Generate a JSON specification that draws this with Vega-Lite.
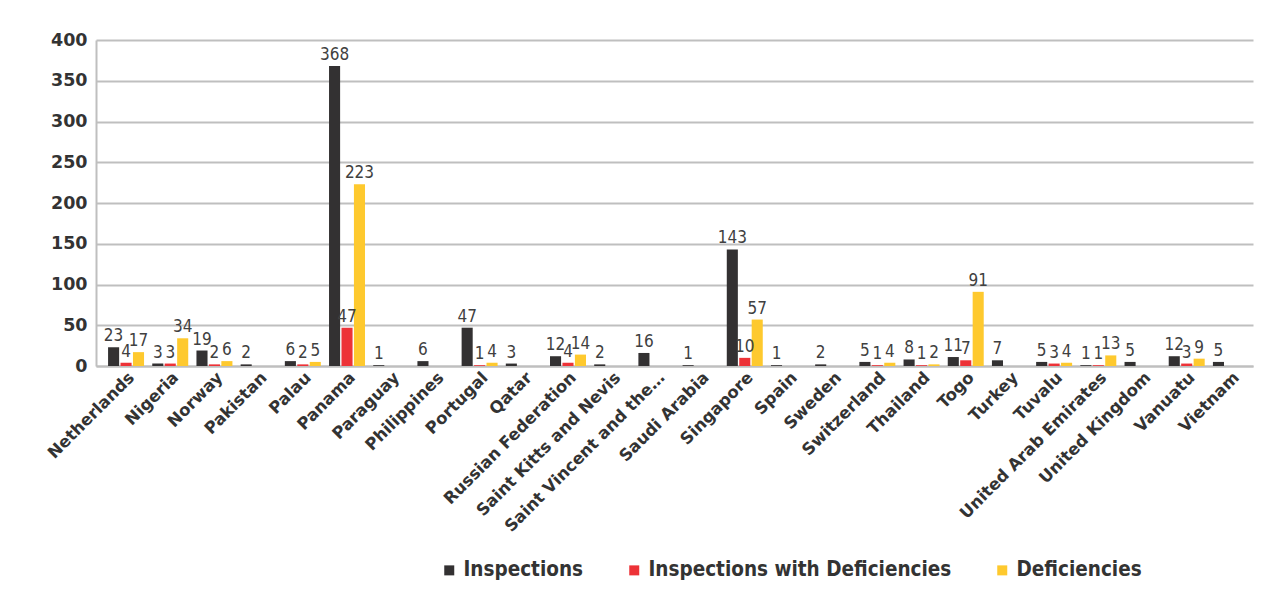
{
  "$schema": "https://vega.github.io/schema/vega-lite/v6.json",
  "width": 1157,
  "height": 326,
  "autosize": {"type": "none"},
  "padding": {"left": 96, "top": 40, "right": 34, "bottom": 229},
  "background": "white",
  "config": {"view": {"stroke": null}},
  "data": {"values": [
    {"country": "Netherlands", "series": "Inspections", "value": 23},
    {"country": "Netherlands", "series": "Inspections with Deficiencies", "value": 4},
    {"country": "Netherlands", "series": "Deficiencies", "value": 17},
    {"country": "Nigeria", "series": "Inspections", "value": 3},
    {"country": "Nigeria", "series": "Inspections with Deficiencies", "value": 3},
    {"country": "Nigeria", "series": "Deficiencies", "value": 34},
    {"country": "Norway", "series": "Inspections", "value": 19},
    {"country": "Norway", "series": "Inspections with Deficiencies", "value": 2},
    {"country": "Norway", "series": "Deficiencies", "value": 6},
    {"country": "Pakistan", "series": "Inspections", "value": 2},
    {"country": "Palau", "series": "Inspections", "value": 6},
    {"country": "Palau", "series": "Inspections with Deficiencies", "value": 2},
    {"country": "Palau", "series": "Deficiencies", "value": 5},
    {"country": "Panama", "series": "Inspections", "value": 368},
    {"country": "Panama", "series": "Inspections with Deficiencies", "value": 47},
    {"country": "Panama", "series": "Deficiencies", "value": 223},
    {"country": "Paraguay", "series": "Inspections", "value": 1},
    {"country": "Philippines", "series": "Inspections", "value": 6},
    {"country": "Portugal", "series": "Inspections", "value": 47},
    {"country": "Portugal", "series": "Inspections with Deficiencies", "value": 1},
    {"country": "Portugal", "series": "Deficiencies", "value": 4},
    {"country": "Qatar", "series": "Inspections", "value": 3},
    {"country": "Russian Federation", "series": "Inspections", "value": 12},
    {"country": "Russian Federation", "series": "Inspections with Deficiencies", "value": 4},
    {"country": "Russian Federation", "series": "Deficiencies", "value": 14},
    {"country": "Saint Kitts and Nevis", "series": "Inspections", "value": 2},
    {"country": "Saint Vincent and the…", "series": "Inspections", "value": 16},
    {"country": "Saudi Arabia", "series": "Inspections", "value": 1},
    {"country": "Singapore", "series": "Inspections", "value": 143},
    {"country": "Singapore", "series": "Inspections with Deficiencies", "value": 10},
    {"country": "Singapore", "series": "Deficiencies", "value": 57},
    {"country": "Spain", "series": "Inspections", "value": 1},
    {"country": "Sweden", "series": "Inspections", "value": 2},
    {"country": "Switzerland", "series": "Inspections", "value": 5},
    {"country": "Switzerland", "series": "Inspections with Deficiencies", "value": 1},
    {"country": "Switzerland", "series": "Deficiencies", "value": 4},
    {"country": "Thailand", "series": "Inspections", "value": 8},
    {"country": "Thailand", "series": "Inspections with Deficiencies", "value": 1},
    {"country": "Thailand", "series": "Deficiencies", "value": 2},
    {"country": "Togo", "series": "Inspections", "value": 11},
    {"country": "Togo", "series": "Inspections with Deficiencies", "value": 7},
    {"country": "Togo", "series": "Deficiencies", "value": 91},
    {"country": "Turkey", "series": "Inspections", "value": 7},
    {"country": "Tuvalu", "series": "Inspections", "value": 5},
    {"country": "Tuvalu", "series": "Inspections with Deficiencies", "value": 3},
    {"country": "Tuvalu", "series": "Deficiencies", "value": 4},
    {"country": "United Arab Emirates", "series": "Inspections", "value": 1},
    {"country": "United Arab Emirates", "series": "Inspections with Deficiencies", "value": 1},
    {"country": "United Arab Emirates", "series": "Deficiencies", "value": 13},
    {"country": "United Kingdom", "series": "Inspections", "value": 5},
    {"country": "Vanuatu", "series": "Inspections", "value": 12},
    {"country": "Vanuatu", "series": "Inspections with Deficiencies", "value": 3},
    {"country": "Vanuatu", "series": "Deficiencies", "value": 9},
    {"country": "Vietnam", "series": "Inspections", "value": 5}
  ]},
  "encoding": {
    "x": {
      "field": "country", "type": "nominal", "sort": null,
      "scale": {"paddingInner": 0, "paddingOuter": 0.09, "align": 1},
      "axis": {
        "title": null, "labelAngle": -45, "ticks": false,
        "domainColor": "#bfbfbf", "domainWidth": 2,
        "labelFont": "DejaVu Sans", "labelFontWeight": "bold", "labelFontSize": 16.5,
        "labelColor": "#333333", "labelPadding": 3, "labelLimit": 400
      }
    },
    "xOffset": {
      "field": "series", "type": "nominal",
      "scale": {"domain": ["Inspections", "Inspections with Deficiencies", "Deficiencies"], "paddingInner": 0.11, "paddingOuter": 0.33}
    },
    "y": {
      "field": "value", "type": "quantitative",
      "scale": {"domain": [0, 400]},
      "axis": {
        "title": null, "values": [0, 50, 100, 150, 200, 250, 300, 350, 400],
        "ticks": false, "domainColor": "#bfbfbf", "domainWidth": 2,
        "gridColor": "#bfbfbf", "gridWidth": 2,
        "labelFont": "DejaVu Sans", "labelFontWeight": "bold", "labelFontSize": 17.5,
        "labelColor": "#333333", "labelPadding": 9
      }
    }
  },
  "layer": [
    {
      "mark": {"type": "bar"},
      "encoding": {
        "color": {
          "field": "series", "type": "nominal",
          "scale": {"domain": ["Inspections", "Inspections with Deficiencies", "Deficiencies"], "range": ["#333132", "#ed3237", "#fec92e"]},
          "legend": {
            "title": null, "orient": "none", "direction": "horizontal",
            "legendX": 343, "legendY": 520,
            "symbolType": "square", "symbolSize": 100, "symbolStrokeWidth": 0,
            "labelFont": "DejaVu Sans Condensed", "labelFontWeight": "bold", "labelFontSize": 20.5,
            "labelColor": "#333333", "columnPadding": 40, "labelOffset": 4, "labelLimit": 600
          }
        }
      }
    },
    {
      "mark": {"type": "text", "baseline": "bottom", "dy": -2, "font": "DejaVu Sans Condensed", "fontSize": 17, "color": "#404040"},
      "encoding": {"text": {"field": "value", "type": "quantitative"}}
    }
  ]
}
